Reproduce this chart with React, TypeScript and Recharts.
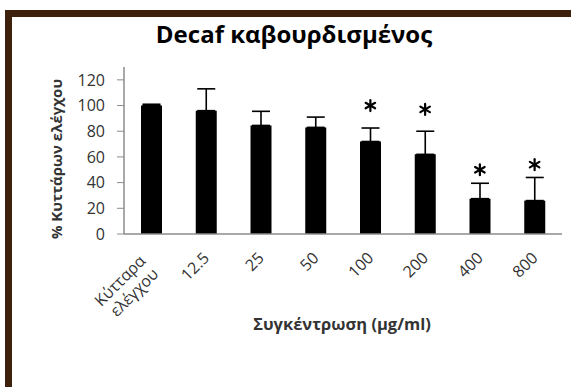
import React from "react";
import { ComposedChart, Bar, XAxis, YAxis, ErrorBar, Scatter, LabelList } from "recharts";

// values
const categories = ["Κύτταρα ελέγχου", "12.5", "25", "50", "100", "200", "400", "800"];
const viability = [100, 96, 84.5, 83, 72, 62, 27.5, 26];
const errorUp = [1, 17, 11, 8, 10.5, 18, 12, 18];
const starLevel: (number | null)[] = [null, null, null, null, 100, 97, 50, 54];
const yTicks = [0, 20, 40, 60, 80, 100, 120];

const data = categories.map((name, i) => ({
  name,
  value: viability[i],
  err: [0, errorUp[i]],
  star: starLevel[i],
}));

const FONT = "'Open Sans', 'Noto Sans', sans-serif";
const AXIS_GRAY = "#8c8c8c";
const TEXT = "#333333";

// category names drawn under each bar, rotated like the Excel axis labels
function CategoryLabel(props: any) {
  const x = Number(props.x);
  const y = Number(props.y);
  const w = Number(props.width);
  const h = Number(props.height);
  if ([x, y, w, h].some((v) => isNaN(v))) return null;
  const cx = x + w / 2;
  const base = y + h; // x-axis line
  const words = String(props.value ?? "").split(" ");
  const line = (tx: number, ty: number, s: string) => (
    <text
      key={s}
      x={tx}
      y={ty}
      textAnchor="end"
      fontFamily={FONT}
      fontSize={16}
      fill={TEXT}
      stroke="none"
      style={{ transform: "rotate(-45deg)", transformOrigin: `${tx}px ${ty}px` }}
    >
      {s}
    </text>
  );
  if (words.length === 1) return <g>{line(cx + 4, base + 25, words[0])}</g>;
  return (
    <g>
      {line(cx - 5, base + 28, words[0])}
      {line(cx + 8, base + 41, words[1])}
    </g>
  );
}

const StarMark = (props: any) => {
  const { cx, cy, payload } = props;
  if (payload?.star == null || cx == null || cy == null || isNaN(cy)) return null;
  const r = 5.5;
  return (
    <g stroke="#000" strokeWidth={2.2} strokeLinecap="round">
      {[90, 30, 150].map((a) => {
        const dx = Math.cos((a * Math.PI) / 180) * r;
        const dy = Math.sin((a * Math.PI) / 180) * r;
        return <line key={a} x1={cx - dx} y1={cy - dy} x2={cx + dx} y2={cy + dy} />;
      })}
      <circle cx={cx} cy={cy} r={2} fill="#000" stroke="none" />
    </g>
  );
};

export default function App() {
  return (
    <div style={{ position: "absolute", left: 0, top: 0, width: 571, height: 387, overflow: "hidden", background: "#fff" }}>
      <div
        style={{
          position: "absolute",
          left: 5,
          top: 10,
          width: 700,
          height: 500,
          borderTop: "7px solid #3d210d",
          borderLeft: "7px solid #3d210d",
        }}
      />
      <div style={{ position: "absolute", left: 0, top: 0 }}>
        <ComposedChart
          width={571}
          height={387}
          data={data}
          margin={{ top: 67, right: 9, left: 0, bottom: 53 }}
          barCategoryGap="62%"
        >
          <XAxis
            dataKey="name"
            height={100}
            interval={0}
            tickLine={false}
            tick={false}
            axisLine={{ stroke: AXIS_GRAY, strokeWidth: 1.5 }}
          />
          <YAxis
            width={124}
            domain={[0, 130]}
            ticks={yTicks}
            tickSize={7}
            tickMargin={12}
            tickLine={{ stroke: AXIS_GRAY }}
            axisLine={{ stroke: AXIS_GRAY, strokeWidth: 1.5 }}
            tick={{ fontFamily: FONT, fontSize: 16, fill: TEXT }}
          />
          <Bar dataKey="value" fill="#000" barSize={21} isAnimationActive={false}>
            <ErrorBar dataKey="err" direction="y" width={9} stroke="#000" strokeWidth={1.6} />
            <LabelList dataKey="name" content={CategoryLabel} />
          </Bar>
          <Scatter dataKey="star" shape={<StarMark />} isAnimationActive={false} />
        </ComposedChart>
      </div>
      <svg width={571} height={387} style={{ position: "absolute", left: 0, top: 0, pointerEvents: "none" }}>
        <text x={294} y={43} textAnchor="middle" fontFamily={FONT} fontSize={24} fontWeight={700} fill="#000">
          Decaf καβουρδισμένος
        </text>
        <text
          transform="translate(62,159) rotate(-90)"
          textAnchor="middle"
          fontFamily={FONT}
          fontSize={15}
          fontWeight={700}
          fill={TEXT}
        >
          % Κυττάρων ελέγχου
        </text>
        <text x={342} y={330} textAnchor="middle" fontFamily={FONT} fontSize={16.5} fontWeight={700} fill={TEXT}>
          Συγκέντρωση (μg/ml)
        </text>
      </svg>
    </div>
  );
}
